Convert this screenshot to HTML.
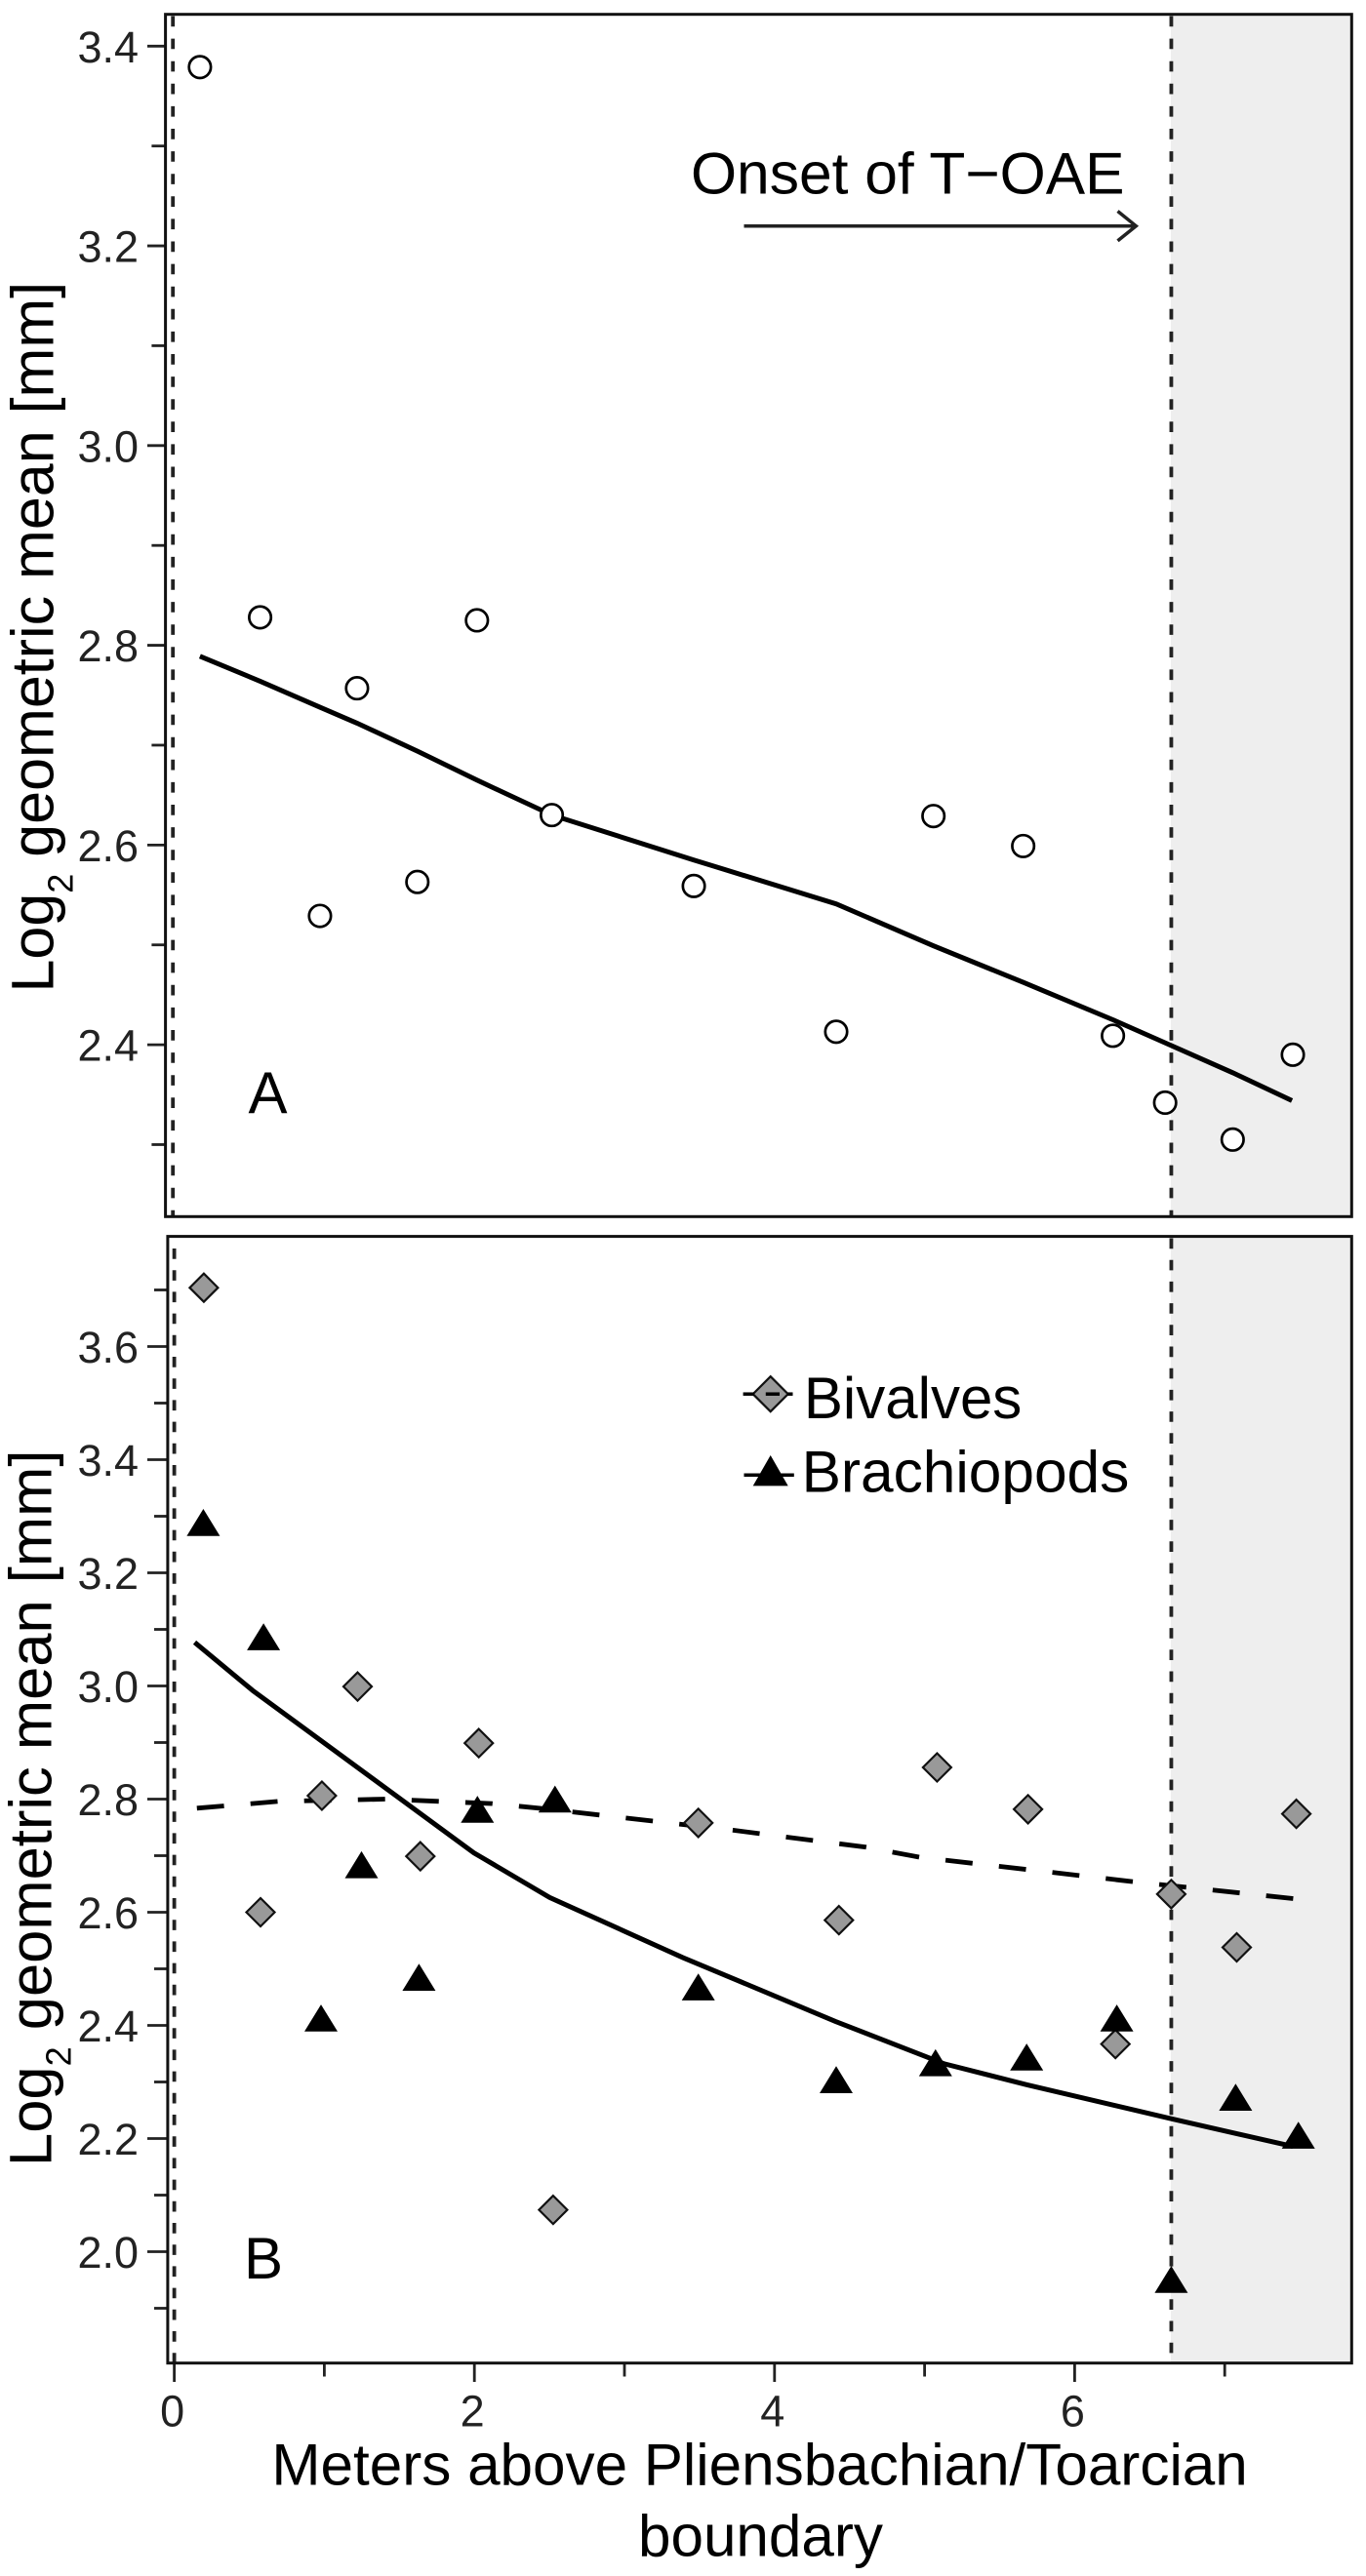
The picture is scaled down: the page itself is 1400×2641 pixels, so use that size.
<!DOCTYPE html>
<html lang="en">
<head>
<meta charset="utf-8">
<title>Log2 geometric mean vs meters above Pliensbachian/Toarcian boundary</title>
<style>
html,body{margin:0;padding:0;background:#fff;}
svg{display:block;}
text{font-family:"Liberation Sans",Arial,sans-serif;}
</style>
</head>
<body>
<svg id="chart" xmlns="http://www.w3.org/2000/svg" width="1400" height="2641" viewBox="0 0 1400 2641">
  <rect x="0" y="0" width="1400" height="2641" fill="#fff"/>
  <rect x="1200" y="15" width="185" height="1232" fill="#eeeeee"/>
  <rect x="1200" y="1268" width="185" height="1155" fill="#eeeeee"/>

  <g id="panelA"></g>
  <g id="panelB"></g>

  <rect x="169.6" y="14.7" width="1215.7" height="1232.6" fill="none" stroke="#111" stroke-width="3"/>
  <rect x="171.9" y="1267.6" width="1213.4" height="1155.1" fill="none" stroke="#111" stroke-width="3"/>

  <text transform="translate(54.5 1017.5) rotate(-90)" font-size="61" fill="#000">Log<tspan dy="20" font-size="36">2</tspan><tspan dy="-20"> geometric mean [mm]</tspan></text>
  <text transform="translate(52.7 2221) rotate(-90)" font-size="61.5" fill="#000">Log<tspan dy="20" font-size="36">2</tspan><tspan dy="-20"> geometric mean [mm]</tspan></text>

  <text x="254.5" y="1141" font-size="60" fill="#000">A</text>
  <text x="250" y="2336" font-size="60" fill="#000">B</text>

  <text x="708" y="198.7" font-size="60.5" fill="#000">Onset of T−OAE</text>
  <g fill="none" stroke="#222" stroke-width="3.5">
    <line x1="762.5" y1="231.7" x2="1163" y2="231.7"/>
    <polyline points="1145.5,216.5 1164.3,231.7 1145.5,246.9"/>
  </g>

  <g>
    <g>
      <polygon points="789.7,1411.2 807.7,1429.2 789.7,1447.2 771.7,1429.2" fill="#999" stroke="#111" stroke-width="2.2"/>
      <line x1="761.6" y1="1429.2" x2="773" y2="1429.2" stroke="#000" stroke-width="3.5"/>
      <line x1="784.8" y1="1429.2" x2="799" y2="1429.2" stroke="#000" stroke-width="3.5"/>
      <line x1="807" y1="1429.2" x2="812.5" y2="1429.2" stroke="#000" stroke-width="3.5"/>
      <text x="823.9" y="1454" font-size="60" fill="#000">Bivalves</text>
    </g>
    <g>
      <line x1="762.5" y1="1512.2" x2="813.8" y2="1512.2" stroke="#000" stroke-width="3.5"/>
      <polygon points="789.7,1492 807.7,1523.4 771.7,1523.4" fill="#000"/>
      <text x="821.6" y="1529.3" font-size="60.4" fill="#000">Brachiopods</text>
    </g>
  </g>

  <text x="778.6" y="2547.3" font-size="60.2" text-anchor="middle" fill="#000">Meters above Pliensbachian/Toarcian</text>
  <text x="779.5" y="2620.7" font-size="60.2" text-anchor="middle" fill="#000">boundary</text>
</svg>

<script>
// ---- Shared axis data ----
const xMajorTicks = [0, 2, 4, 6];
const xMajorLabels = ['0', '2', '4', '6'];
const xMinorTicks = [1, 3, 5, 7];
const boundaryMeters = 0;
const toaeOnsetMeters = 6.644;

// ---- Panel A data ----
const aYMajorTicks = [3.4, 3.2, 3.0, 2.8, 2.6, 2.4];
const aYLabels = ['3.4', '3.2', '3.0', '2.8', '2.6', '2.4'];
const aYMinorTicks = [3.3, 3.1, 2.9, 2.7, 2.5, 2.3];
const aPointMeters = [0.171, 0.572, 0.971, 1.218, 1.620, 2.017, 2.516, 3.462, 4.411, 5.059, 5.657, 6.255, 6.603, 7.053, 7.454];
const aPointValues = [3.379, 2.828, 2.529, 2.757, 2.563, 2.825, 2.630, 2.559, 2.413, 2.629, 2.599, 2.409, 2.342, 2.305, 2.390];
const aTrendMeters = [0.171, 0.572, 0.971, 1.218, 1.620, 2.017, 2.516, 3.462, 4.411, 5.059, 5.657, 6.255, 6.603, 7.053, 7.448];
const aTrendValues = [2.789, 2.764, 2.738, 2.722, 2.694, 2.665, 2.630, 2.585, 2.541, 2.499, 2.4625, 2.425, 2.402, 2.372, 2.344];

// ---- Panel B data ----
const bYMajorTicks = [3.6, 3.4, 3.2, 3.0, 2.8, 2.6, 2.4, 2.2, 2.0];
const bYLabels = ['3.6', '3.4', '3.2', '3.0', '2.8', '2.6', '2.4', '2.2', '2.0'];
const bYMinorTicks = [3.7, 3.5, 3.3, 3.1, 2.9, 2.7, 2.5, 2.3, 2.1, 1.9];
const bivalveMeters = [0.197, 0.575, 0.984, 1.222, 1.640, 2.029, 2.525, 3.492, 4.429, 5.083, 5.689, 6.272, 6.644, 7.080, 7.477];
const bivalveValues = [3.704, 2.600, 2.806, 2.999, 2.699, 2.899, 2.074, 2.758, 2.586, 2.856, 2.782, 2.367, 2.632, 2.538, 2.774];
const brachiopodMeters = [0.194, 0.595, 0.978, 1.248, 1.631, 2.020, 2.537, 3.492, 4.411, 5.073, 5.680, 6.281, 6.644, 7.073, 7.491];
const brachiopodValues = [3.281, 3.079, 2.405, 2.676, 2.477, 2.774, 2.792, 2.460, 2.296, 2.326, 2.336, 2.405, 1.943, 2.265, 2.198];
const bivalveTrendMeters = [0.151, 0.696, 1.407, 2.119, 2.467, 3.193, 3.724, 4.609, 4.972, 6.394, 7.462];
const bivalveTrendValues = [2.784, 2.796, 2.800, 2.792, 2.783, 2.761, 2.745, 2.715, 2.697, 2.654, 2.624];
const brachiopodTrendMeters = [0.136, 0.522, 1.997, 2.502, 3.388, 4.406, 5.132, 5.683, 6.644, 7.454];
const brachiopodTrendValues = [3.077, 2.992, 2.705, 2.626, 2.520, 2.407, 2.332, 2.295, 2.235, 2.186];

// ---- Axis functions ----
function xScale(m) { return 178.6 + 153.8 * m; }
function yScaleA(v) { return 47.3 + (3.4 - v) * 1023.8; }
function yScaleB(v) { return 1380.5 + (3.6 - v) * 580; }

const NS = 'http://www.w3.org/2000/svg';
const panelA = document.getElementById('panelA');
const panelB = document.getElementById('panelB');

function shape(parent, tag, attrs) {
  const node = document.createElementNS(NS, tag);
  Object.keys(attrs).forEach(function (k) { node.setAttribute(k, attrs[k]); });
  parent.appendChild(node);
  return node;
}

function pathFrom(xs, ys, yFn) {
  return xs.map(function (m, i) {
    return (i ? 'L' : 'M') + xScale(m).toFixed(1) + ' ' + yFn(ys[i]).toFixed(1);
  }).join(' ');
}

function drawYAxis(parent, majors, labels, minors, yFn, frameX, minorStart) {
  majors.forEach(function (v, i) {
    const tick = shape(parent, 'line', { x1: 151, x2: frameX, y1: yFn(v), y2: yFn(v), stroke: '#222', 'stroke-width': 2.8 });
    
    
    const label = shape(parent, 'text', { x: 142, y: yFn(v) + 16.5, 'font-size': 45, 'text-anchor': 'end', fill: '#222' });
    label.textContent = labels[i];
    
    
  });
  minors.forEach(function (v) {
    const tick = shape(parent, 'line', { x1: minorStart, x2: frameX, y1: yFn(v), y2: yFn(v), stroke: '#222', 'stroke-width': 2.8 });
    
    
  });
}

function drawVerticalDashed(parent, x, y1, y2, period, name) {
  const line = shape(parent, 'line', { x1: x, x2: x, y1: y1, y2: y2, stroke: '#222', 'stroke-width': 3.8, 'stroke-dasharray': '10.7 ' + (period - 10.7).toFixed(1) });
  
  
}

// ---- Panel A ----
drawYAxis(panelA, aYMajorTicks, aYLabels, aYMinorTicks, yScaleA, 170, 155.4);
drawVerticalDashed(panelA, xScale(boundaryMeters) - 1.4, 16.5, 1247, 23.1, 'panel-a-boundary-line');
drawVerticalDashed(panelA, xScale(toaeOnsetMeters), 16.5, 1247, 23.1, 'panel-a-toae-onset-line');

const aTrend = shape(panelA, 'path', { d: pathFrom(aTrendMeters, aTrendValues, yScaleA), fill: 'none', stroke: '#000', 'stroke-width': 5 });



aPointMeters.forEach(function (m, i) {
  const pt = shape(panelA, 'circle', { cx: xScale(m), cy: yScaleA(aPointValues[i]), r: 11.2, fill: '#fff', stroke: '#000', 'stroke-width': 2.7 });
  
  
});

// ---- Panel B ----
drawYAxis(panelB, bYMajorTicks, bYLabels, bYMinorTicks, yScaleB, 172, 158);
drawVerticalDashed(panelB, xScale(boundaryMeters), 1280, 2423, 22.2, 'panel-b-boundary-line');
drawVerticalDashed(panelB, xScale(toaeOnsetMeters), 1269.5, 2423, 22.2, 'panel-b-toae-onset-line');

xMajorTicks.forEach(function (m, i) {
  const tick = shape(panelB, 'line', { x1: xScale(m), x2: xScale(m), y1: 2423, y2: 2442, stroke: '#222', 'stroke-width': 2.8 });
  
  
  const label = shape(panelB, 'text', { x: xScale(m) - 2, y: 2487.4, 'font-size': 45, 'text-anchor': 'middle', fill: '#222' });
  label.textContent = xMajorLabels[i];
  
  
});
xMinorTicks.forEach(function (m) {
  const tick = shape(panelB, 'line', { x1: xScale(m), x2: xScale(m), y1: 2423, y2: 2436.5, stroke: '#222', 'stroke-width': 2.8 });
  
  
});

const bivalveTrend = shape(panelB, 'path', { d: pathFrom(bivalveTrendMeters, bivalveTrendValues, yScaleB), fill: 'none', stroke: '#000', 'stroke-width': 4.8, 'stroke-dasharray': '27.9 27.2' });



const brachiopodTrend = shape(panelB, 'path', { d: pathFrom(brachiopodTrendMeters, brachiopodTrendValues, yScaleB), fill: 'none', stroke: '#000', 'stroke-width': 5 });



bivalveMeters.forEach(function (m, i) {
  const cx = xScale(m);
  const cy = yScaleB(bivalveValues[i]);
  const pts = [[cx, cy - 14.5], [cx + 14.5, cy], [cx, cy + 14.5], [cx - 14.5, cy]].map(function (p) { return p[0].toFixed(1) + ',' + p[1].toFixed(1); }).join(' ');
  const mark = shape(panelB, 'polygon', { points: pts, fill: '#999', stroke: '#111', 'stroke-width': 2.2 });
  
  
});

brachiopodMeters.forEach(function (m, i) {
  const cx = xScale(m);
  const cy = yScaleB(brachiopodValues[i]);
  const pts = [[cx, cy - 18.5], [cx + 17, cy + 9.2], [cx - 17, cy + 9.2]].map(function (p) { return p[0].toFixed(1) + ',' + p[1].toFixed(1); }).join(' ');
  const mark = shape(panelB, 'polygon', { points: pts, fill: '#000' });
  
  
});
</script>
</body>
</html>
